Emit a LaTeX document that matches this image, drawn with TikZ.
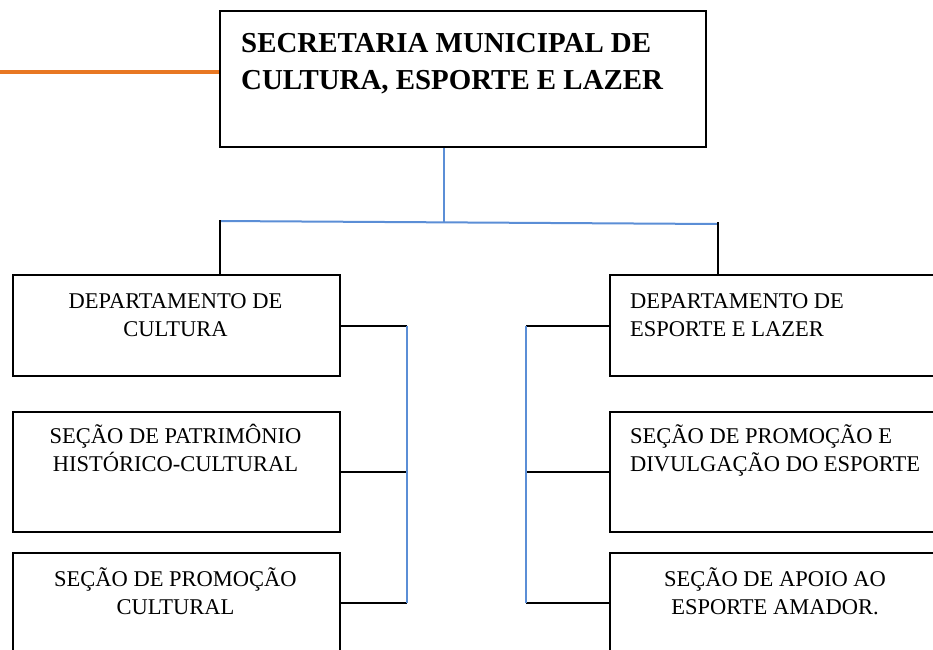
\documentclass[tikz,border=0pt]{standalone}
\usepackage{fontspec}
\setmainfont{Liberation Serif}
\definecolor{orgline}{HTML}{E87722}
\definecolor{blueline}{HTML}{5B8ED6}
\begin{document}
\begin{tikzpicture}[x=1pt,y=-1pt,
  box/.style={draw=black,line width=2.2pt,rectangle,inner sep=0pt,anchor=north west},
  txt/.style={inner sep=0pt,font=\fontsize{22.5}{28}\selectfont},
  ttl/.style={inner sep=0pt,font=\fontsize{28.9}{37}\selectfont\bfseries},
  blk/.style={draw=black,line width=2pt},
  blu/.style={draw=blueline,line width=2pt},
  org/.style={draw=orgline,line width=3.5pt}]
\useasboundingbox (0,0) rectangle (933,649);
\clip (0,0) rectangle (933,649);
\setlength{\tabcolsep}{0pt}
% top box
\node[box,minimum width=486pt,minimum height=136pt] (top) at (219,10) {};
\node[ttl,anchor=base west] (ttext) at (241,52) {\begin{tabular}[t]{l}SECRETARIA MUNICIPAL DE\\CULTURA, ESPORTE E LAZER\end{tabular}};
% left column
\node[box,minimum width=327pt,minimum height=101pt] (lb1) at (12,274) {};
\node[box,minimum width=327pt,minimum height=120pt] (lb2) at (12,411) {};
\node[box,minimum width=327pt,minimum height=100pt] (lb3) at (12,552) {};
\node[txt,anchor=base] (lt1) at (175.5,308) {\begin{tabular}[t]{c}DEPARTAMENTO DE\\CULTURA\end{tabular}};
\node[txt,anchor=base] (lt2) at (175.5,443) {\begin{tabular}[t]{c}SEÇÃO DE PATRIMÔNIO\\HISTÓRICO-CULTURAL\end{tabular}};
\node[txt,anchor=base] (lt3) at (175.5,586) {\begin{tabular}[t]{c}SEÇÃO DE PROMOÇÃO\\CULTURAL\end{tabular}};
% right column
\node[box,minimum width=360pt,minimum height=101pt] (rb1) at (609,274) {};
\node[box,minimum width=360pt,minimum height=120pt] (rb2) at (609,411) {};
\node[box,minimum width=360pt,minimum height=100pt] (rb3) at (609,552) {};
\node[txt,anchor=base west] (rt1) at (630,308) {\begin{tabular}[t]{l}DEPARTAMENTO DE\\ESPORTE E LAZER\end{tabular}};
\node[txt,anchor=base west] (rt2) at (630,443) {\begin{tabular}[t]{l}SEÇÃO DE PROMOÇÃO E\\DIVULGAÇÃO DO ESPORTE\end{tabular}};
\node[txt,anchor=base] (rt3) at (775,586) {\begin{tabular}[t]{c}SEÇÃO DE APOIO AO\\ESPORTE AMADOR.\end{tabular}};
% coordinates
\coordinate (orgstart) at (0,72);
\coordinate (busM) at (444,222.5);
\coordinate (busL) at (220,221);
\coordinate (busR) at (718,224);
\coordinate (lspine) at (407,0);
\coordinate (rspine) at (526,0);
% connectors
\draw[org] (orgstart) -- (orgstart -| top.west);
\draw[blu] (top.south -| busM) -- (busM);
\draw[blu] (busL) -- (busR);
\draw[blk] ([yshift=1pt]busL) -- (busL |- lb1.north);
\draw[blk] ([yshift=2pt]busR) -- (busR |- rb1.north);
\draw[blk] (lb1.east) -- (lb1.east -| lspine);
\draw[blk] (lb2.east) -- (lb2.east -| lspine);
\draw[blk] (lb3.east) -- (lb3.east -| lspine);
\draw[blu] (lb1.east -| lspine) -- (lb3.east -| lspine);
\draw[blk] (rb1.west) -- (rb1.west -| rspine);
\draw[blk] (rb2.west) -- (rb2.west -| rspine);
\draw[blk] (rb3.west) -- (rb3.west -| rspine);
\draw[blu] (rb1.west -| rspine) -- (rb3.west -| rspine);
\end{tikzpicture}
\end{document}
